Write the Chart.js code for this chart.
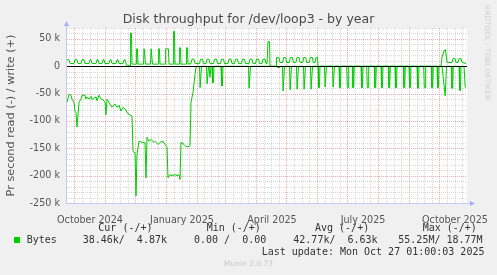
<!DOCTYPE html>
<html>
<head>
<meta charset="utf-8">
<script src="https://cdn.jsdelivr.net/npm/chart.js@4.4.1/dist/chart.umd.min.js"></script>
<style>
  html, body { margin: 0; padding: 0; background: #f0f0f0; }
  #wrap { position: relative; width: 497px; height: 275px; overflow: hidden; }
  #c { position: absolute; left: 0; top: 0; }
  .t { position: absolute; white-space: pre; line-height: 1; }
  .sans { font-family: "DejaVu Sans", sans-serif; }
  .mono { font-family: "DejaVu Sans Mono", monospace; font-size: 10px; color: #333; }
</style>
</head>
<body>
<div id="wrap">
  <canvas id="c" width="497" height="275" style="width:497px;height:275px"></canvas>
  <div class="t sans" style="left:0;width:497px;text-align:center;top:13.4px;font-size:12.5px;color:#4a4a4a">Disk throughput for /dev/loop3 - by year</div>
  <div class="t sans" style="left:484px;top:5px;font-size:7.4px;color:#d0d0d0;writing-mode:vertical-rl">RRDTOOL / TOBI OETIKER</div>

  <div class="t mono" style="left:98.3px;top:222.5px">Cur (-/+)</div>
  <div class="t mono" style="left:206.7px;top:222.5px">Min (-/+)</div>
  <div class="t mono" style="left:315px;top:222.5px">Avg (-/+)</div>
  <div class="t mono" style="left:422.7px;top:222.5px">Max (-/+)</div>

  <div style="position:absolute;left:14px;top:237px;width:6px;height:6px;background:#00cc00"></div>
  <div class="t mono" style="left:26.7px;top:235px">Bytes</div>
  <div class="t mono" style="left:82.7px;top:235px">38.46k/  4.87k</div>
  <div class="t mono" style="left:194px;top:235px">0.00 /  0.00</div>
  <div class="t mono" style="left:293.3px;top:235px">42.77k/  6.63k</div>
  <div class="t mono" style="left:398.3px;top:235px">55.25M/ 18.77M</div>

  <div class="t mono" style="left:261.7px;top:246.8px">Last update: Mon Oct 27 01:00:03 2025</div>
  <div class="t sans" style="left:0;width:497px;text-align:center;top:259.7px;font-size:7.5px;color:#c8c8c8">Munin 2.0.73</div>
</div>

<script>
// Disk throughput by year — munin/rrdtool look-alike

// x values are days counted from 1 Oct 2024; y values in k bytes/s
const MONTH_STARTS = [0, 31, 61, 92, 123, 151, 182, 212, 243, 273, 304, 335, 365, 396];
const X_TICK_DAYS = [16, 108, 198, 289, 381];
const X_TICK_LABELS = ['October 2024', 'January 2025', 'April 2025', 'July 2025', 'October 2025'];
const Y_TICKS = [50000, 0, -50000, -100000, -150000, -200000, -250000];

const writeData = [
  [-7,12],[-5,12],[-4,5],[0,5],[1,12],[3,12],[4,5],[7,5],[8,12],[10,12],[11,5],[15,5],[16,12],[17,12],[18,5],
  [22,5],[23,12],[24,12],[25,5],[28,5],[29,12],[30,12],[31,5],[35,5],[36,12],[37,12],[38,5],[42,5],[43,12],
  [44,12],[45,5],[49,5],[50,12],[51,12],[52,5],[53,1],[56,1],[56.6,61],[57.4,61],[58,4],
  [62,4],[62.6,32],[63.4,32],[64,4],[69.5,4],[70.1,32],[70.9,32],[71.5,4],[76.5,4],[77.1,32],[77.9,32],[78.5,4],
  [84,4],[84.6,32],[85.4,32],[86,4],[91,4],[91.6,32],[94.4,32],[95,4],[99,4],[99.6,64],[100.4,64],[101,4],
  [105,4],[105.6,34],[106.4,34],[107,4],[112,4],[112.6,34],[113.4,34],[114,4],
  [117,5],[118,13],[120,13],[121,5],[125.5,5],[126.5,13],[128.5,13],[129.5,5],[132,5],[133,13],[135,13],[136,5],
  [139.5,5],[140.5,13],[142.5,13],[143.5,5],[146.5,5],[147.5,13],[149.5,13],[150.5,5],[154,5],[155,13],[157,13],[158,5],
  [160.5,5],[161.5,13],[163.5,13],[164.5,5],[167.5,5],[168.5,13],[170.5,13],[171.5,5],[175,5],[176,13],[178,13],[179,5],
  [181.5,5],[182.5,13],[184.5,13],[185.5,5],[188,5],[189,13],[191,13],[192,5],
  [193,5],[194,45],[195.5,45],[196,0],[202,0],[202.5,16],[205,16],[206,7],[208.7,7],[209.7,16],[211.7,16],[212.7,7],
  [215.3,7],[216.3,16],[218.3,16],[219.3,7],[222,7],[223,16],[225,16],[226,7],[228.7,7],[229.7,16],[231.7,16],[232.7,7],
  [235.3,7],[236.3,16],[238.3,16],[239.3,7],[241,7],[242,16],[243.5,16],[244,0],
  [367,0],[368,16],[370,28],[371.5,31],[373,7],[378,7],[379,14],[381,14],[382,7],[384,7],[385,14],[387,14],[388,7],[392,5]
];

const readData = [
  [-7,-66],[-5,-51],[-3,-53],[-2,-60],[0,-66],[1,-82],[2,-84],[3,-111],[5,-66],[7,-60],[8,-53],[11,-53],[12,-60],
  [13,-56],[15,-60],[17,-55],[18,-61],[20,-58],[22,-56],[23,-63],[25,-53],[27,-60],[29,-61],[31,-66],[32,-89],[33,-60],
  [34,-63],[37,-72],[38,-75],[41,-69],[43,-75],[45,-71],[47,-82],[49,-75],[52,-80],[53,-85],[56,-89],[58,-91],
  [59,-155],[60,-158],[61,-158],[62,-237],[63,-161],[65,-137],[68,-139],[71,-140],[72,-204],[73,-130],[75,-137],
  [77,-134],[80,-139],[81,-137],[84,-143],[86,-139],[89,-137],[91,-143],[93,-148],[94,-204],[96,-198],[98,-200],
  [101,-198],[103,-200],[105,-198],[106,-207],[107,-139],[110,-143],[112,-147],[115,-147],[116,-145],[117,-66],
  [119,-48],[121,-15],[122,-2],[124,0],
  [125.5,0],[126.1,-39],[126.9,-39],[127.5,0],[132.5,0],[133.1,-32],[133.9,-32],[134.5,0],[135,0],[136,-20],[137,0],
  [138,0],[138.6,-30],[139.4,-30],[140,0],[147,0],[147.6,-36],[148.4,-36],[149,0],[174.5,0],[175.1,-40],[175.9,-40],[176.5,0],
  [202,0],[203,-2],[206,-2],[207,0],
  [208.5,0],[209.1,-45],[209.9,-45],[210.5,0],[215.5,0],[216.1,-43],[216.9,-43],[217.5,0],[222.5,0],[223.1,-42],[223.9,-42],[224.5,0],
  [229.5,0],[230.1,-42],[230.9,-42],[231.5,0],[236.5,0],[237.1,-42],[237.9,-42],[238.5,0],[244,0],[244.6,-39],[245.4,-39],[246,0],
  [250.5,0],[251.1,-38],[251.9,-38],[252.5,0],[258.5,0],[259.1,-38],[259.9,-38],[260.5,0],[265,0],[265.6,-39],[266.4,-39],[267,0],
  [272.7,0],[273.3,-39],[274.1,-39],[274.7,0],[278.3,0],[278.9,-39],[279.7,-39],[280.3,0],[287,0],[287.6,-39],[288.4,-39],[289,0],
  [292.7,0],[293.3,-39],[294.1,-39],[294.7,0],[300.3,0],[300.9,-39],[301.7,-39],[302.3,0],[307,0],[307.6,-39],[308.4,-39],[309,0],
  [314.3,0],[314.9,-39],[315.7,-39],[316.3,0],[321,0],[321.6,-39],[322.4,-39],[323,0],[329.3,0],[329.9,-39],[330.7,-39],[331.3,0],
  [335,0],[335.6,-39],[336.4,-39],[337,0],[343,0],[343.6,-40],[344.4,-40],[345,0],[349.7,0],[350.3,-39],[351.1,-39],[351.7,0],
  [357.3,0],[357.9,-39],[358.7,-39],[359.3,0],[363,0],[363.6,-39],[364.4,-39],[365,0],
  [368,0],[371.2,-54],[371.9,-54],[372.5,0],[377.3,0],[377.9,-40],[378.7,-40],[379.3,0],[385,0],[385.6,-44],[386.4,-44],[387,0],
  [390,0],[391.2,-38],[392,-38.5]
];

const GREEN = '#00cc00';
const MINOR = 'rgba(150,150,150,0.36)';
const MAJOR = 'rgba(230,90,90,0.5)';
const AXIS = 'rgb(200,200,245)';
const ARROW = 'rgb(165,175,250)';
const TICK_FONT = { family: 'DejaVu Sans', size: 9.6 };

const toPoints = arr => arr.map(([d, v]) => ({ x: d, y: v * 1000 }));

// ── rrdtool style grid, zero line and arrowed axes ──────────────────────
const rrdGrid = {
  id: 'rrdGrid',
  beforeDatasetsDraw(chart) {
    const { ctx, chartArea: a, scales: { x, y } } = chart;
    const px = v => Math.round(x.getPixelForValue(v)) + 0.5;
    const py = v => Math.round(y.getPixelForValue(v)) + 0.5;
    ctx.save();
    ctx.fillStyle = '#fff';
    ctx.fillRect(a.left, a.top, a.right - a.left, a.bottom - a.top);
    ctx.lineWidth = 1;
    ctx.setLineDash([1, 1]);

    const vline = xx => { ctx.beginPath(); ctx.moveTo(xx, a.top); ctx.lineTo(xx, a.bottom); ctx.stroke(); };
    const hline = yy => { ctx.beginPath(); ctx.moveTo(a.left, yy); ctx.lineTo(a.right, yy); ctx.stroke(); };

    ctx.strokeStyle = MINOR;
    for (let i = 0; i < MONTH_STARTS.length - 1; i++) {
      const s = MONTH_STARTS[i], len = MONTH_STARTS[i + 1] - s;
      for (let k = 1; k < 4; k++) {
        const d = s + len * k / 4;
        if (d > x.min && d < x.max) vline(px(d));
      }
    }
    for (let v = -240000; v <= 70000; v += 10000) {
      if (v % 50000 !== 0) hline(py(v));
    }

    ctx.strokeStyle = MAJOR;
    MONTH_STARTS.forEach(d => { if (d > x.min && d < x.max) vline(px(d)); });
    for (let v = -200000; v <= 50000; v += 50000) {
      if (v !== 0) hline(py(v));
    }
    ctx.restore();
  },
  afterDatasetsDraw(chart) {
    const { ctx, chartArea: a, scales: { y } } = chart;
    ctx.save();
    ctx.lineWidth = 1;
    const z = Math.round(y.getPixelForValue(0)) + 0.5;
    ctx.strokeStyle = '#000';
    ctx.beginPath(); ctx.moveTo(a.left, z); ctx.lineTo(a.right, z); ctx.stroke();

    const l = Math.round(a.left) - 0.5, b = Math.round(a.bottom) + 0.5;
    ctx.strokeStyle = AXIS;
    ctx.beginPath();
    ctx.moveTo(l, b); ctx.lineTo(l, a.top - 4);
    ctx.moveTo(l, b); ctx.lineTo(a.right + 4, b);
    ctx.stroke();
    ctx.fillStyle = ARROW;
    ctx.beginPath();
    ctx.moveTo(l - 2.5, a.top - 2); ctx.lineTo(l + 2.5, a.top - 2); ctx.lineTo(l, a.top - 7); ctx.closePath();
    ctx.fill();
    ctx.beginPath();
    ctx.moveTo(a.right + 3, b - 2.5); ctx.lineTo(a.right + 3, b + 2.5); ctx.lineTo(a.right + 8, b); ctx.closePath();
    ctx.fill();
    ctx.restore();
  }
};

new Chart(document.getElementById('c'), {
  type: 'line',
  data: {
    datasets: [
      { label: 'write', data: toPoints(writeData), borderColor: GREEN, borderWidth: 1, pointRadius: 0, tension: 0, fill: false },
      { label: 'read', data: toPoints(readData), borderColor: GREEN, borderWidth: 1, pointRadius: 0, tension: 0, fill: false }
    ]
  },
  options: {
    responsive: false,
    animation: false,
    devicePixelRatio: 1,
    layout: { padding: { top: 28, right: 30, bottom: 0, left: 0 } },
    plugins: { legend: { display: false }, tooltip: { enabled: false }, title: { display: false } },
    scales: {
      x: {
        type: 'linear',
        min: -7,
        max: 393,
        grid: { display: false },
        border: { display: false },
        afterBuildTicks: s => { s.ticks = X_TICK_DAYS.map(v => ({ value: v })); },
        afterFit: s => { s.height = 72; },
        ticks: {
          autoSkip: false, maxRotation: 0, minRotation: 0, padding: 3.5,
          color: '#555', font: TICK_FONT,
          callback: (v, i) => X_TICK_LABELS[i]
        }
      },
      y: {
        min: -250000,
        max: 70000,
        grid: { display: false, drawTicks: false },
        border: { display: false },
        afterBuildTicks: s => { s.ticks = Y_TICKS.map(v => ({ value: v })); },
        afterFit: s => { s.width = 67; },
        ticks: {
          padding: 7, color: '#555', font: TICK_FONT,
          callback: v => v === 0 ? '0' : (v / 1000) + ' k'
        },
        title: {
          display: true,
          text: 'Pr second read (-) / write (+)',
          color: '#555',
          font: { family: 'DejaVu Sans', size: 11.3 },
          padding: { top: 4, bottom: 0 }
        }
      }
    }
  },
  plugins: [rrdGrid]
});
</script>
</body>
</html>
